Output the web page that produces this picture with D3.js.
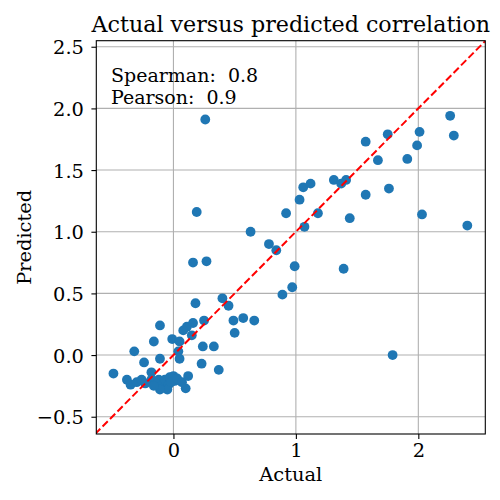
<!DOCTYPE html>
<html><head><meta charset="utf-8">
<script src="https://d3js.org/d3.v7.min.js"></script>
<style>body{margin:0;background:#fff}svg{display:block}text{font-family:"DejaVu Serif",serif;fill:#000}</style>
</head><body><div id="chart"></div>
<script>
const actual = [0.26,0.19,0.16,0.27,0.63,0.78,0.84,0.99,0.97,0.89,0.92,0.40,0.45,1.03,1.06,1.12,1.18,1.07,1.31,1.37,1.41,1.44,
2.26,2.29,2.01,1.99,1.91,1.75,1.57,1.67,1.76,1.57,2.03,2.40,1.39,1.79,
0.18,-0.11,0.25,0.49,0.57,0.66,0.50,0.16,0.11,0.08,0.15,-0.16,-0.01,0.05,0.24,0.33,0.04,-0.11,0.05,0.23,0.37,
-0.49,-0.32,-0.24,-0.18,0.10,-0.38,-0.35,-0.30,-0.26,-0.23,-0.18,-0.15,-0.12,-0.09,-0.07,-0.04,-0.03,0.01,-0.05,-0.11,-0.16,0.00,-0.02,0.03,0.07,0.12];
const predicted = [1.91,1.16,0.75,0.76,1.00,0.90,0.85,0.72,0.55,0.49,1.15,0.46,0.40,1.26,1.36,1.39,1.15,1.04,1.42,1.39,1.42,1.11,
1.94,1.78,1.81,1.70,1.59,1.79,1.73,1.58,1.35,1.30,1.14,1.05,0.70,0.00,
0.42,0.24,0.28,0.28,0.30,0.28,0.18,0.26,0.23,0.20,0.16,0.11,0.13,0.11,0.07,0.07,0.03,-0.03,-0.03,-0.07,-0.12,
-0.15,0.03,-0.06,-0.14,-0.27,-0.20,-0.24,-0.22,-0.20,-0.23,-0.20,-0.23,-0.20,-0.24,-0.20,-0.24,-0.18,-0.21,-0.28,-0.28,-0.25,-0.17,-0.22,-0.19,-0.22,-0.17];
const xTicks = [0,1,2];
const yTicks = [-0.5,0.0,0.5,1.0,1.5,2.0,2.5];
const titleText = "Actual versus predicted correlation";
const statLabels = ["Spearman:  0.8","Pearson:  0.9"];
const xDomain = [-0.63, 2.547];
const yDomain = [-0.64, 2.549];

const W=500,H=500, L=96.3, R=485.3, T=40.7, B=434;
const FS = "19.4px";
const svg = d3.select("#chart").append("svg").attr("width",W).attr("height",H);
const x = d3.scaleLinear().domain(xDomain).range([L,R]);
const y = d3.scaleLinear().domain(yDomain).range([B,T]);

// grid
svg.append("g").selectAll("line").data(xTicks).join("line")
  .attr("x1",d=>x(d)).attr("x2",d=>x(d)).attr("y1",T).attr("y2",B)
  .attr("stroke","#b0b0b0").attr("stroke-width",1.1);
svg.append("g").selectAll("line").data(yTicks).join("line")
  .attr("y1",d=>y(d)).attr("y2",d=>y(d)).attr("x1",L).attr("x2",R)
  .attr("stroke","#b0b0b0").attr("stroke-width",1.1);

// points
const pts = actual.map((a,i)=>[a,predicted[i]]);
svg.append("g").selectAll("circle").data(pts).join("circle")
  .attr("cx",d=>x(d[0])).attr("cy",d=>y(d[1])).attr("r",4.9)
  .attr("fill","#1f77b4");

// diagonal
svg.append("defs").append("clipPath").attr("id","clip").append("rect")
  .attr("x",L).attr("y",T).attr("width",R-L).attr("height",B-T);
const lo = Math.min(xDomain[0],yDomain[0]), hi = Math.max(xDomain[1],yDomain[1]);
svg.append("line").attr("clip-path","url(#clip)")
  .attr("x1",x(lo)).attr("y1",y(lo)).attr("x2",x(hi)).attr("y2",y(hi))
  .attr("stroke","red").attr("stroke-width",2).attr("stroke-dasharray","7.4,3.2");

// axes
const xAxis = svg.append("g").attr("transform",`translate(0,${B})`)
  .call(d3.axisBottom(x).tickValues(xTicks).tickFormat(d3.format("d")).tickSize(4.9).tickPadding(4.9));
const yAxis = svg.append("g").attr("transform",`translate(${L},0)`)
  .call(d3.axisLeft(y).tickValues(yTicks).tickFormat(d=>d3.format(".1f")(d).replace("-","\u2212")).tickSize(4.9).tickPadding(7.5));
[xAxis,yAxis].forEach(g=>{
  g.select(".domain").remove();
  g.selectAll(".tick line").attr("stroke","#000").attr("stroke-width",1.1);
  g.selectAll("text").style("font-family","DejaVu Serif").style("font-size",FS).attr("fill","#000");
});
xAxis.selectAll("text").attr("y",22.7).attr("dy",0);
yAxis.selectAll("text").attr("dy","0.36em");

// frame
svg.append("rect").attr("x",L).attr("y",T).attr("width",R-L).attr("height",B-T)
  .attr("fill","none").attr("stroke","#000").attr("stroke-width",1.1);

// title & labels
svg.append("text").attr("x",(L+R)/2).attr("y",31.7).attr("text-anchor","middle")
  .style("font-size","22.2px").text(titleText);
svg.append("text").attr("x",(L+R)/2).attr("y",480.7).attr("text-anchor","middle")
  .style("font-size",FS).text("Actual");
svg.append("text").attr("transform",`translate(31,${(T+B)/2}) rotate(-90)`).attr("text-anchor","middle")
  .style("font-size",FS).text("Predicted");
svg.append("g").selectAll("text").data(statLabels).join("text")
  .attr("x",111).attr("y",(d,i)=>81.5+i*22.3).style("font-size","19px")
  .attr("xml:space","preserve").text(d=>d);
</script></body></html>
